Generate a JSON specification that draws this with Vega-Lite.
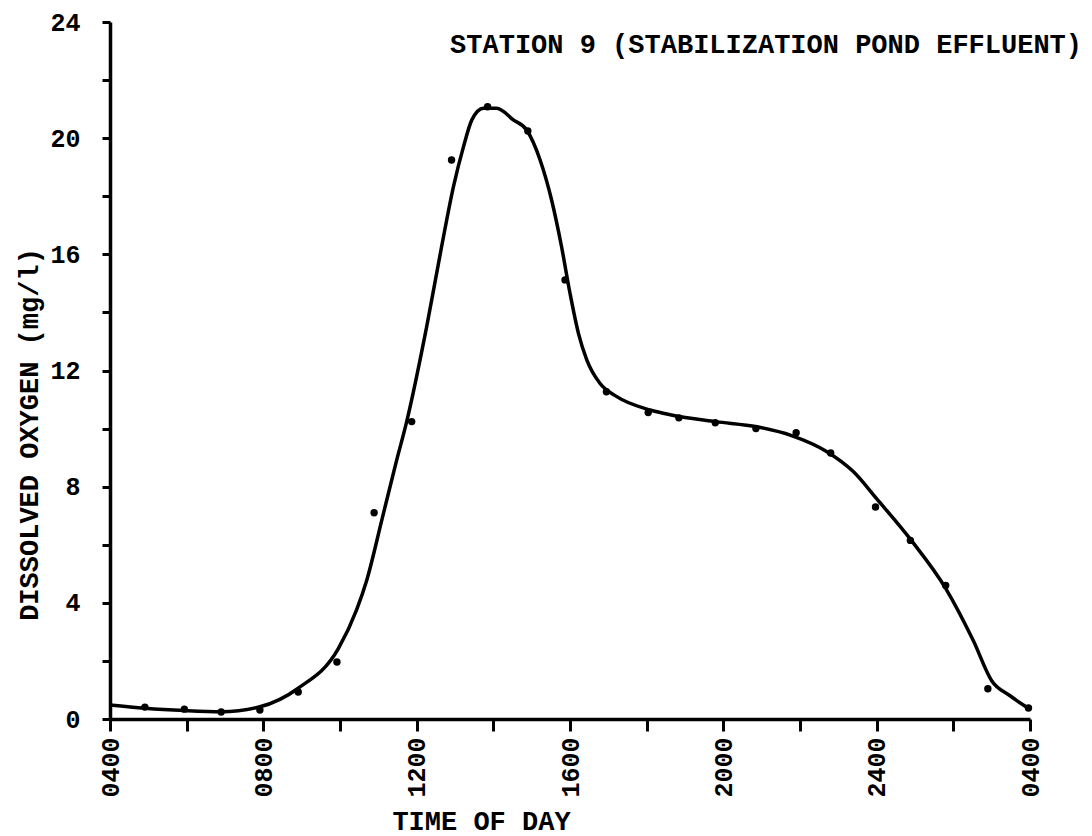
{
  "$schema": "https://vega.github.io/schema/vega-lite/v6.json",
  "autosize": {"type": "none"},
  "padding": {"left": 110, "top": 22, "right": 62, "bottom": 117},
  "width": 920,
  "height": 697,
  "background": "white",
  "title": {
    "text": "STATION 9 (STABILIZATION POND EFFLUENT)",
    "anchor": "end",
    "frame": "group",
    "orient": "top",
    "dx": 52,
    "offset": -62,
    "baseline": "middle",
    "font": "Liberation Mono",
    "fontSize": 27,
    "fontWeight": "bold",
    "color": "black"
  },
  "config": {
    "view": {"stroke": null},
    "axis": {
      "grid": false,
      "domainColor": "black",
      "domainWidth": 3.5,
      "tickColor": "black",
      "tickWidth": 3,
      "labelColor": "black",
      "labelFont": "Liberation Mono",
      "labelFontWeight": "bold",
      "labelFontSize": 25,
      "labelOverlap": false,
      "labelFlush": false,
      "titleColor": "black",
      "titleFont": "Liberation Mono",
      "titleFontWeight": "bold",
      "titleFontSize": 27
    }
  },
  "datasets": {
    "curve": [
      {"t": 0.0, "do": 0.48},
      {"t": 0.91, "do": 0.37},
      {"t": 1.94, "do": 0.29},
      {"t": 2.9, "do": 0.25},
      {"t": 3.91, "do": 0.42},
      {"t": 4.91, "do": 1.06},
      {"t": 5.96, "do": 2.43},
      {"t": 6.43, "do": 3.75},
      {"t": 6.7, "do": 4.79},
      {"t": 7.1, "do": 6.9},
      {"t": 7.48, "do": 8.92},
      {"t": 7.74, "do": 10.24},
      {"t": 8.26, "do": 13.5},
      {"t": 8.65, "do": 16.26},
      {"t": 8.96, "do": 18.33},
      {"t": 9.22, "do": 19.7},
      {"t": 9.44, "do": 20.63},
      {"t": 9.74, "do": 21.03},
      {"t": 10.09, "do": 21.03},
      {"t": 10.52, "do": 20.63},
      {"t": 10.87, "do": 20.28},
      {"t": 11.22, "do": 19.25},
      {"t": 11.52, "do": 17.87},
      {"t": 11.78, "do": 16.26},
      {"t": 12.0, "do": 14.66},
      {"t": 12.22, "do": 13.28},
      {"t": 12.44, "do": 12.36},
      {"t": 12.78, "do": 11.56},
      {"t": 13.22, "do": 11.1},
      {"t": 14.09, "do": 10.64},
      {"t": 14.64, "do": 10.47},
      {"t": 15.8, "do": 10.24},
      {"t": 16.88, "do": 10.06},
      {"t": 17.78, "do": 9.76},
      {"t": 18.67, "do": 9.23},
      {"t": 19.39, "do": 8.52},
      {"t": 20.01, "do": 7.57},
      {"t": 20.91, "do": 6.14},
      {"t": 21.8, "do": 4.5},
      {"t": 22.52, "do": 2.7},
      {"t": 23.0, "do": 1.32},
      {"t": 23.48, "do": 0.8},
      {"t": 23.96, "do": 0.37}
    ],
    "points": [
      {"t": 0.91, "do": 0.41},
      {"t": 1.94, "do": 0.34},
      {"t": 2.9, "do": 0.24},
      {"t": 3.91, "do": 0.31},
      {"t": 4.91, "do": 0.93},
      {"t": 5.92, "do": 1.96},
      {"t": 6.89, "do": 7.1},
      {"t": 7.87, "do": 10.24},
      {"t": 8.91, "do": 19.25},
      {"t": 9.85, "do": 21.08},
      {"t": 10.9, "do": 20.25},
      {"t": 11.87, "do": 15.12},
      {"t": 12.95, "do": 11.27},
      {"t": 14.04, "do": 10.55},
      {"t": 14.84, "do": 10.37},
      {"t": 15.79, "do": 10.2},
      {"t": 16.85, "do": 10.0},
      {"t": 17.9, "do": 9.86},
      {"t": 18.8, "do": 9.16},
      {"t": 19.97, "do": 7.3},
      {"t": 20.88, "do": 6.15},
      {"t": 21.8, "do": 4.6},
      {"t": 22.9, "do": 1.04},
      {"t": 23.96, "do": 0.38}
    ]
  },
  "encoding": {
    "x": {
      "field": "t",
      "type": "quantitative",
      "scale": {"domain": [0, 24], "nice": false, "zero": false},
      "axis": {
        "values": [0, 2, 4, 6, 8, 10, 12, 14, 16, 18, 20, 22, 24],
        "labelExpr": "datum.value % 4 == 0 ? ['0400','0800','1200','1600','2000','2400','0400'][datum.value / 4] : ''",
        "labelAngle": -90,
        "labelPadding": 6,
        "tickSize": 12,
        "title": "TIME OF DAY",
        "titleX": 371,
        "titleY": 89,
        "titleAlign": "center",
        "titleBaseline": "top"
      }
    },
    "y": {
      "field": "do",
      "type": "quantitative",
      "scale": {"domain": [0, 24], "nice": false},
      "axis": {
        "values": [0, 2, 4, 6, 8, 10, 12, 14, 16, 18, 20, 22, 24],
        "labelExpr": "datum.value % 4 == 0 ? datum.label : ''",
        "tickSize": 8,
        "labelPadding": 22,
        "title": "DISSOLVED OXYGEN (mg/l)",
        "titleAngle": 270,
        "titleX": -81,
        "titleY": 412,
        "titleAlign": "center",
        "titleBaseline": "middle"
      }
    }
  },
  "layer": [
    {
      "data": {"name": "curve"},
      "mark": {"type": "line", "interpolate": "monotone", "color": "black", "strokeWidth": 3.5}
    },
    {
      "data": {"name": "points"},
      "mark": {"type": "circle", "color": "black", "opacity": 1, "size": 55}
    }
  ]
}
